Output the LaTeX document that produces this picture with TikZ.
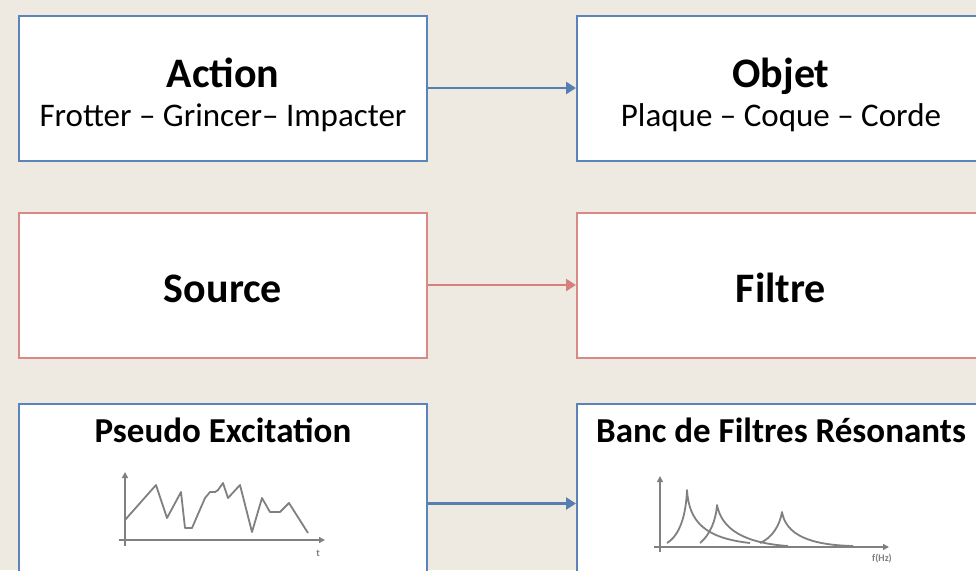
\documentclass[tikz,border=0pt]{standalone}
\usepackage{fontspec}
\setmainfont{Carlito}
\usepackage{tikz}
\usetikzlibrary{arrows.meta,positioning}
\definecolor{slideBeige}{HTML}{EEEAE1}
\definecolor{slideBlue}{HTML}{5A84BA}
\definecolor{slideRed}{HTML}{D98A87}
\definecolor{arrowBlue}{HTML}{557FB2}
\definecolor{arrowRed}{HTML}{D5807D}
\definecolor{plotGray}{HTML}{808080}
\tikzset{
  blueBox/.style={
    rectangle,
    draw=slideBlue,
    fill=white,
    line width=1pt,
    minimum width=204pt,
    minimum height=72.5pt
  },
  redBox/.style={
    blueBox,
    draw=slideRed
  },
  plotBox/.style={
    blueBox,
    minimum height=100pt
  },
  titleText/.style={
    anchor=base,
    font=\fontsize{21}{25}\selectfont\bfseries
  },
  subText/.style={
    anchor=base,
    font=\fontsize{16.5}{20}\selectfont
  },
  plotTitle/.style={
    anchor=base,
    font=\fontsize{17.5}{21}\selectfont\bfseries
  },
  blueArrow/.style={
    -{Triangle[length=5pt,width=6pt]},
    line width=1.4pt,
    draw=arrowBlue
  },
  redArrow/.style={
    blueArrow,
    draw=arrowRed
  },
  axisLine/.style={
    -{Triangle[length=3pt,width=3pt]},
    line width=0.7pt,
    draw=plotGray
  },
  curveLine/.style={
    line width=0.9pt,
    draw=plotGray,
    line join=round
  },
  tickLabel/.style={
    font=\fontsize{5}{6}\selectfont\bfseries,
    text=plotGray,
    inner sep=0pt
  }
}
\begin{document}
\begin{tikzpicture}[x=0.5pt,y=-0.5pt,node distance=25pt and 74pt]
  \useasboundingbox (0,0) rectangle (976,570);
  \fill[slideBeige] (0,0) rectangle (976,570);
  % boxes
  \node[blueBox] (action) at (223,88) {};
  \node[blueBox,right=of action] (objet) {};
  \node[redBox,below=of action] (source) {};
  \node[redBox,below=of objet] (filtre) {};
  \node[plotBox,below=22pt of source] (excit) {};
  \node[plotBox,below=22pt of filtre] (banc) {};
  % texts
  \node[titleText] (actionTitle) at ([yshift=-36.25pt]action.north) {Action};
  \node[subText] (actionSub) at ([yshift=-55.75pt]action.north) {Frotter – Grincer– Impacter};
  \node[titleText] (objetTitle) at ([yshift=-36.25pt]objet.north) {Objet};
  \node[subText] (objetSub) at ([yshift=-55.75pt]objet.north) {Plaque – Coque – Corde};
  \node[titleText] (sourceTitle) at ([yshift=-45.25pt]source.north) {Source};
  \node[titleText] (filtreTitle) at ([yshift=-45.25pt]filtre.north) {Filtre};
  \node[plotTitle] (excitTitle) at ([yshift=-19.75pt]excit.north) {Pseudo Excitation};
  \node[plotTitle] (bancTitle) at ([yshift=-19.75pt]banc.north) {Banc de Filtres Résonants};
  % arrows
  \draw[blueArrow] (action) -- (objet);
  \draw[redArrow] (source) -- (filtre);
  \draw[blueArrow] (excit) -- (banc);
  % excitation sketch
  \draw[axisLine] (125,546) -- (125,472);
  \draw[axisLine] (119,540) -- (325,540);
  \node[tickLabel] (tLabel) at (318,553) {t};
  \draw[curveLine] (125,520) -- (156,485) -- (167,518) -- (181,492) -- (185,528)
    -- (192,528) -- (205,498) -- (210,492) -- (215,492) -- (218,490) -- (223,483)
    -- (228,498) -- (240,485) -- (252,532) -- (262,498) -- (270,512) -- (280,512)
    -- (289,503) -- (308,533);
  % resonance sketch
  \draw[axisLine] (660,552) -- (660,476);
  \draw[axisLine] (654,547) -- (889,547);
  \node[tickLabel] (fLabel) at (882,559) {f(Hz)};
  \draw[curveLine] (667,543) .. controls (680,535) and (686,515) .. (687,490)
    .. controls (689,522) and (705,538) .. (750,543);
  \draw[curveLine] (700,543) .. controls (710,535) and (716,520) .. (717,505)
    .. controls (722,530) and (745,543) .. (788,546);
  \draw[curveLine] (760,543) .. controls (772,538) and (780,525) .. (782,512)
    .. controls (786,535) and (810,545) .. (853,546);
\end{tikzpicture}
\end{document}
